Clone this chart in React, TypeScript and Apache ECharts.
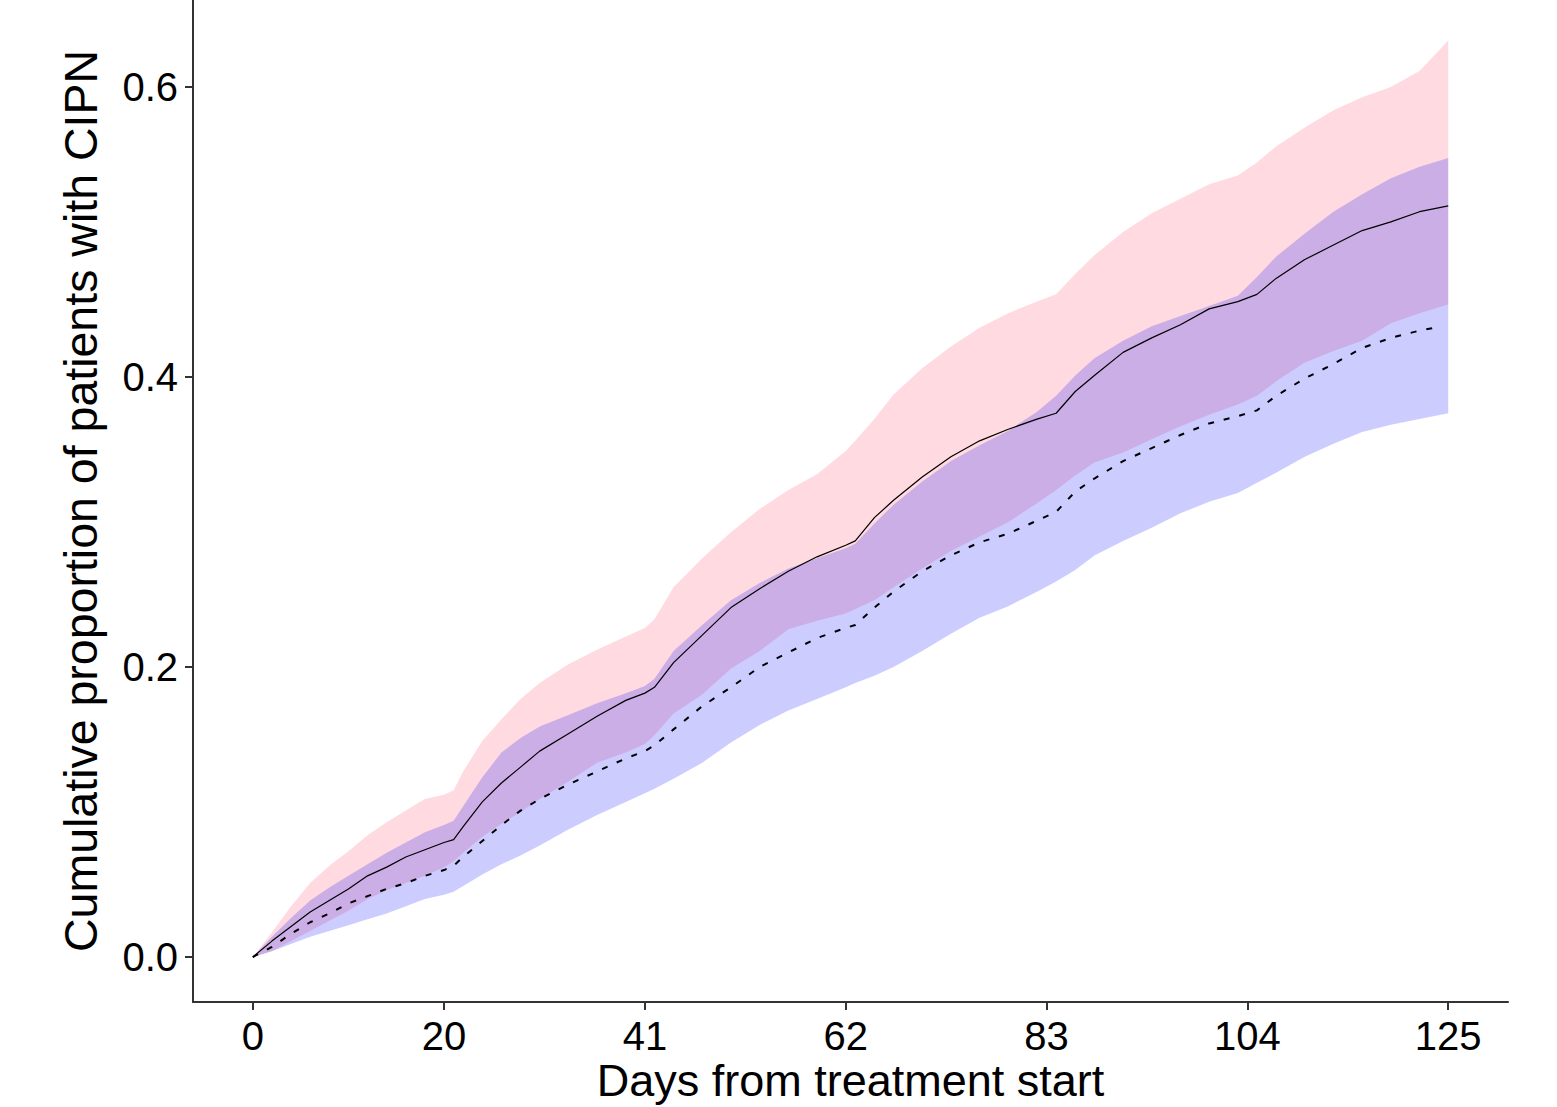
import React, { useEffect, useRef } from "react";
import * as echarts from "echarts";

const days = [0, 2, 4, 6, 8, 10, 12, 14, 16, 18, 20, 21, 22, 24, 26, 28, 30, 33, 36, 39, 41, 42, 44, 47, 50, 53, 56, 59, 62, 63, 65, 67, 70, 73, 76, 79, 82, 84, 86, 88, 91, 94, 97, 100, 103, 105, 107, 110, 113, 116, 119, 122, 125];

// Group 1 (solid line, pink band)
const est1 = [0, 0.011, 0.021, 0.031, 0.039, 0.047, 0.056, 0.062, 0.069, 0.074, 0.079, 0.081, 0.090, 0.107, 0.120, 0.131, 0.142, 0.154, 0.166, 0.177, 0.182, 0.186, 0.203, 0.222, 0.241, 0.254, 0.266, 0.276, 0.284, 0.287, 0.303, 0.315, 0.331, 0.345, 0.356, 0.364, 0.371, 0.375, 0.390, 0.401, 0.417, 0.427, 0.436, 0.447, 0.452, 0.457, 0.468, 0.481, 0.491, 0.501, 0.507, 0.514, 0.518];
const up1 = [0, 0.017, 0.035, 0.051, 0.063, 0.073, 0.084, 0.093, 0.101, 0.109, 0.112, 0.115, 0.128, 0.149, 0.164, 0.178, 0.189, 0.202, 0.212, 0.221, 0.227, 0.233, 0.255, 0.275, 0.293, 0.309, 0.322, 0.333, 0.349, 0.356, 0.371, 0.388, 0.406, 0.421, 0.434, 0.444, 0.452, 0.457, 0.471, 0.484, 0.500, 0.513, 0.523, 0.533, 0.539, 0.548, 0.559, 0.572, 0.584, 0.593, 0.600, 0.611, 0.632];
const lo1 = [0, 0.004, 0.011, 0.018, 0.025, 0.032, 0.040, 0.046, 0.051, 0.056, 0.062, 0.066, 0.072, 0.083, 0.092, 0.100, 0.109, 0.121, 0.134, 0.141, 0.147, 0.153, 0.168, 0.181, 0.199, 0.211, 0.226, 0.232, 0.237, 0.240, 0.246, 0.255, 0.268, 0.280, 0.290, 0.300, 0.313, 0.322, 0.332, 0.341, 0.348, 0.357, 0.366, 0.374, 0.381, 0.387, 0.397, 0.410, 0.418, 0.425, 0.437, 0.444, 0.450];

// Group 2 (dashed line, blue band)
const est2 = [0, 0.007, 0.016, 0.024, 0.030, 0.037, 0.042, 0.047, 0.051, 0.056, 0.060, 0.063, 0.069, 0.080, 0.091, 0.101, 0.109, 0.119, 0.128, 0.137, 0.142, 0.146, 0.157, 0.173, 0.186, 0.200, 0.210, 0.220, 0.227, 0.229, 0.241, 0.252, 0.266, 0.277, 0.286, 0.292, 0.301, 0.307, 0.321, 0.330, 0.342, 0.351, 0.360, 0.368, 0.373, 0.377, 0.387, 0.399, 0.409, 0.420, 0.427, 0.432, 0.434];
const up2 = [0, 0.014, 0.027, 0.039, 0.048, 0.056, 0.064, 0.072, 0.079, 0.086, 0.091, 0.094, 0.104, 0.124, 0.141, 0.151, 0.159, 0.167, 0.175, 0.182, 0.187, 0.192, 0.211, 0.229, 0.246, 0.258, 0.268, 0.275, 0.282, 0.285, 0.299, 0.312, 0.328, 0.342, 0.353, 0.363, 0.376, 0.387, 0.401, 0.413, 0.425, 0.435, 0.442, 0.449, 0.456, 0.469, 0.483, 0.499, 0.514, 0.526, 0.537, 0.545, 0.551];
const lo2 = [0, 0.004, 0.009, 0.014, 0.018, 0.022, 0.026, 0.030, 0.035, 0.040, 0.043, 0.045, 0.049, 0.057, 0.064, 0.070, 0.077, 0.088, 0.098, 0.107, 0.113, 0.116, 0.123, 0.134, 0.148, 0.160, 0.170, 0.178, 0.186, 0.189, 0.194, 0.200, 0.211, 0.223, 0.234, 0.242, 0.252, 0.259, 0.267, 0.277, 0.287, 0.296, 0.306, 0.314, 0.320, 0.327, 0.334, 0.345, 0.354, 0.362, 0.367, 0.371, 0.375];
const dashedLastDay = 123.6;

// Axis ticks
const xTicks = [0, 20, 41, 62, 83, 104, 125];
const yTicks = [0, 0.2, 0.4, 0.6];

const FONT = "Liberation Sans, Arial, sans-serif";

function bandSeries(lo: number[], up: number[], fill: string) {
  return {
    type: "custom",
    silent: true,
    data: [[0, 0]],
    renderItem: (_params: any, api: any) => {
      const top = days.map((d, i) => api.coord([d, up[i]]));
      const bottom = days.map((d, i) => api.coord([d, lo[i]])).reverse();
      return {
        type: "polygon",
        shape: { points: top.concat(bottom) },
        style: { fill, stroke: "none" },
      };
    },
  };
}

export default function App() {
  const ref = useRef<HTMLDivElement>(null);

  useEffect(() => {
    if (!ref.current) return;
    const chart = echarts.init(ref.current, null, { renderer: "svg" });

    const pair = (arr: number[]) => days.map((d, i) => [d, arr[i]]);
    const dashedData = days.map((d, i) => [i === days.length - 1 ? dashedLastDay : d, est2[i]]);

    const axisLineStyle = { color: "#333333", width: 2 };

    const option: any = {
      animation: false,
      backgroundColor: "#ffffff",
      grid: { left: 193, right: 49, top: 0, bottom: 105, containLabel: false, outerBoundsMode: "none" },
      xAxis: {
        type: "value",
        min: -6.25,
        max: 131.25,
        name: "Days from treatment start",
        nameLocation: "middle",
        nameGap: 56,
        nameMoveOverlap: false,
        nameTextStyle: { fontFamily: FONT, fontSize: 45, color: "#000000", lineHeight: 45 },
        axisLine: { show: true, onZero: false, lineStyle: axisLineStyle },
        axisTick: { show: true, length: 8, lineStyle: axisLineStyle, customValues: xTicks },
        axisLabel: {
          customValues: xTicks,
          fontFamily: FONT,
          fontSize: 40,
          color: "#000000",
          margin: 14,
          formatter: (v: number) => String(v),
        },
        splitLine: { show: false },
      },
      yAxis: {
        type: "value",
        min: -0.031,
        max: 0.66,
        name: "Cumulative proportion of patients with CIPN",
        nameLocation: "middle",
        nameGap: 89,
        nameMoveOverlap: false,
        nameTextStyle: { fontFamily: FONT, fontSize: 46.5, color: "#000000" },
        axisLine: { show: true, onZero: false, lineStyle: axisLineStyle },
        axisTick: { show: true, length: 8, lineStyle: axisLineStyle, customValues: yTicks },
        axisLabel: {
          customValues: yTicks,
          fontFamily: FONT,
          fontSize: 40,
          color: "#000000",
          margin: 15,
          formatter: (v: number) => v.toFixed(1),
        },
        splitLine: { show: false },
      },
      series: [
        {
          type: "line",
          name: "est1",
          data: pair(est1),
          symbol: "none",
          silent: true,
          lineStyle: { color: "#000000", width: 1.2 },
        },
        {
          type: "line",
          name: "est2",
          data: dashedData,
          symbol: "none",
          silent: true,
          lineStyle: { color: "#000000", width: 2, type: [6, 10] },
        },
        bandSeries(lo1, up1, "rgba(255,182,193,0.5)"),
        bandSeries(lo2, up2, "rgba(0,0,255,0.2)"),
      ],
    };

    chart.setOption(option);
    return () => chart.dispose();
  }, []);

  return (
    <div
      ref={ref}
      style={{ position: "fixed", left: 0, top: 0, width: 1557, height: 1107, background: "#ffffff" }}
    />
  );
}
